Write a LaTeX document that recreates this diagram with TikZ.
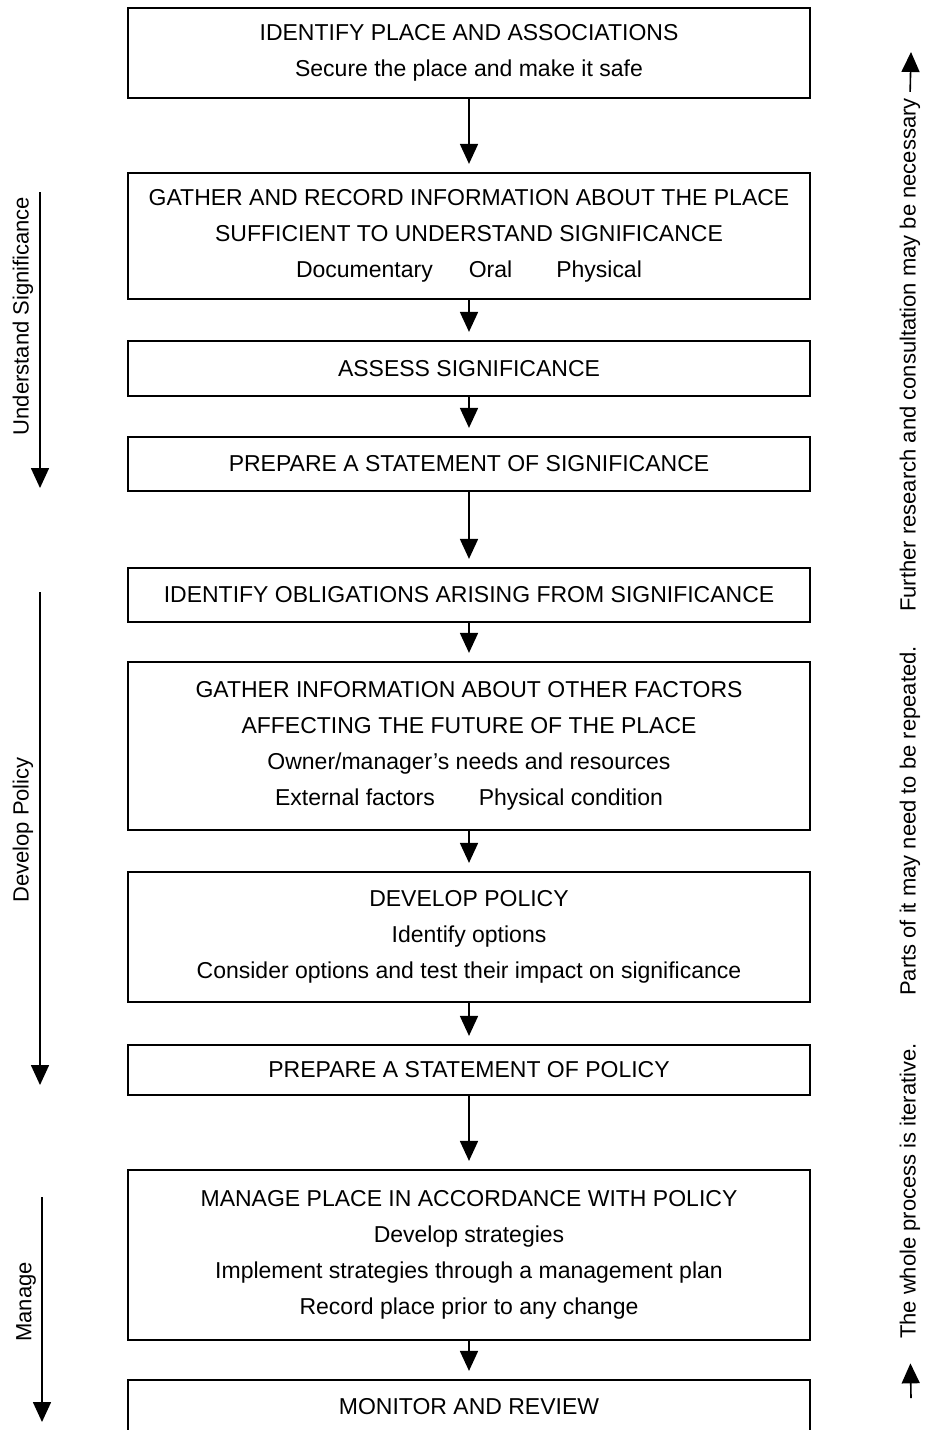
\documentclass[tikz,border=0pt]{standalone}
\usepackage{fontspec}
\setmainfont{Liberation Sans}
\usetikzlibrary{arrows.meta}

\begin{document}
\begin{tikzpicture}[x=0.5pt, y=-0.5pt,
  box/.style={draw, line width=1.1pt, minimum width=341pt, inner sep=0pt,
    align=center, font=\fontsize{11.5}{18}\selectfont},
  flow/.style={-{Triangle[width=9pt,length=10pt]}, line width=0.9pt, shorten >=4pt},
  sidearrow/.style={-{Triangle[width=9pt,length=10pt]}, line width=0.8pt},
  side/.style={rotate=90, inner sep=0pt, font=\fontsize{11}{13}\selectfont}]

  \useasboundingbox (0,0) rectangle (926,1430);

  \node (1) [box, minimum height=45pt] at (469,53)
    {IDENTIFY PLACE AND ASSOCIATIONS\\Secure the place and make it safe};
  \node (2) [box, minimum height=63pt] at (469,236)
    {GATHER AND RECORD INFORMATION ABOUT THE PLACE\\
     SUFFICIENT TO UNDERSTAND SIGNIFICANCE\\
     Documentary\hspace{18pt}Oral\hspace{22pt}Physical};
  \node (3) [box, minimum height=27.5pt] at (469,368.5) {ASSESS SIGNIFICANCE};
  \node (4) [box, minimum height=27pt] at (469,464) {PREPARE A STATEMENT OF SIGNIFICANCE};
  \node (5) [box, minimum height=27pt] at (469,595)
    {IDENTIFY OBLIGATIONS ARISING FROM SIGNIFICANCE};
  \node (6) [box, minimum height=84pt] at (469,746)
    {GATHER INFORMATION ABOUT OTHER FACTORS\\
     AFFECTING THE FUTURE OF THE PLACE\\
     Owner/manager's needs and resources\\
     External factors\hspace{22pt}Physical condition};
  \node (7) [box, minimum height=65pt] at (469,937)
    {DEVELOP POLICY\\Identify options\\
     Consider options and test their impact on significance};
  \node (8) [box, minimum height=25pt] at (469,1070) {PREPARE A STATEMENT OF POLICY};
  \node (9) [box, minimum height=85pt] at (469,1255)
    {MANAGE PLACE IN ACCORDANCE WITH POLICY\\
     Develop strategies\\
     Implement strategies through a management plan\\
     Record place prior to any change};
  \node (10) [box, minimum height=27pt] at (469,1407) {MONITOR AND REVIEW};

  \draw[flow] (1) -- (2);
  \draw[flow] (2) -- (3);
  \draw[flow] (3) -- (4);
  \draw[flow] (4) -- (5);
  \draw[flow] (5) -- (6);
  \draw[flow] (6) -- (7);
  \draw[flow] (7) -- (8);
  \draw[flow] (8) -- (9);
  \draw[flow] (9) -- (10);

  \node (understand) [side] at (23,316) {Understand Significance};
  \node (policy) [side] at (23,830) {Develop Policy};
  \node (manage) [side] at (26,1302) {Manage};
  \coordinate (us1) at (40,192);
  \coordinate (us2) at (40,488);
  \coordinate (dp1) at (40,592);
  \coordinate (dp2) at (40,1085);
  \coordinate (mg1) at (42,1197);
  \coordinate (mg2) at (42,1422);
  \draw[sidearrow] (us1) -- (us2);
  \draw[sidearrow] (dp1) -- (dp2);
  \draw[sidearrow] (mg1) -- (mg2);

  \node (iter) [side] at (910,1191) {The whole process is iterative.};
  \node (parts) [side] at (910,821) {Parts of it may need to be repeated.};
  \node (further) [side] at (910,355) {Further research and consultation may be necessary};
  \coordinate (start) at (911,1398);
  \coordinate (end) at (911,52);
  \draw[sidearrow, shorten >=12pt] (start) -- (iter.west);
  \draw[sidearrow, shorten <=3pt] (further.east) -- (end);

\end{tikzpicture}
\end{document}
